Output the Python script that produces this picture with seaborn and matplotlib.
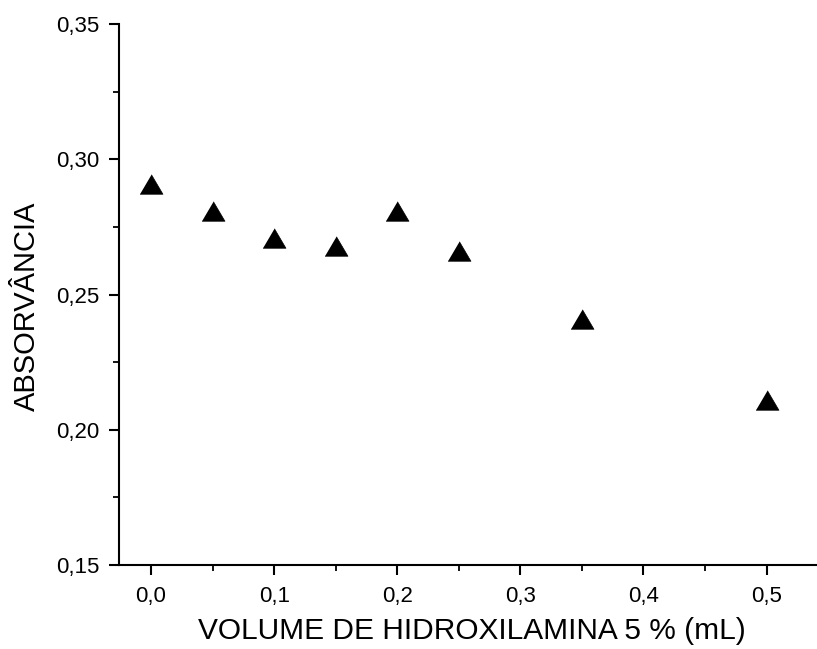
import matplotlib
matplotlib.use("Agg")
import matplotlib.pyplot as plt
import seaborn as sns
import pandas as pd
from matplotlib.ticker import MultipleLocator, FixedLocator

volume = [0.0, 0.05, 0.10, 0.15, 0.20, 0.25, 0.35, 0.50]
absorbance = [0.291, 0.281, 0.271, 0.268, 0.281, 0.266, 0.241, 0.211]
xticks = [0.0, 0.1, 0.2, 0.3, 0.4, 0.5]
xtick_labels = ["0,0", "0,1", "0,2", "0,3", "0,4", "0,5"]
yticks = [0.15, 0.20, 0.25, 0.30, 0.35]
ytick_labels = ["0,15", "0,20", "0,25", "0,30", "0,35"]
xlabel = "VOLUME DE HIDROXILAMINA 5 % (mL)"
ylabel = "ABSORVÂNCIA"

sns.set_style("ticks")
plt.rcParams['font.family'] = ['Liberation Sans', 'DejaVu Sans']

df = pd.DataFrame({"x": volume, "y": absorbance})

fig = plt.figure(figsize=(8.17, 6.49), dpi=100)
ax = fig.add_axes([0.1457, 0.1294, 0.8543, 0.8336])
tri = [(-1.0, -0.85), (1.0, -0.85), (0.0, 0.85)]
sns.scatterplot(data=df, x="x", y="y", marker=tri, s=272, color="black",
                edgecolor="black", linewidth=0.5, ax=ax)

ax.set_xlim(-0.026, 0.541)
ax.set_ylim(0.15, 0.35)
ax.xaxis.set_major_locator(FixedLocator(xticks))
ax.set_xticklabels(xtick_labels)
ax.yaxis.set_major_locator(FixedLocator(yticks))
ax.set_yticklabels(ytick_labels)
ax.xaxis.set_minor_locator(MultipleLocator(0.05))
ax.yaxis.set_minor_locator(MultipleLocator(0.025))

for s in ["top", "right"]:
    ax.spines[s].set_visible(False)
for s in ["left", "bottom"]:
    ax.spines[s].set_linewidth(1.5)
    ax.spines[s].set_color("black")

ax.tick_params(axis="both", which="major", direction="out", length=7.5, width=1.5,
               labelsize=16, colors="black")
ax.tick_params(axis="both", which="minor", direction="out", length=4.5, width=1.3,
               colors="black")
ax.tick_params(axis="x", which="major", pad=7.5)
ax.tick_params(axis="y", which="major", pad=6.5)

ax.set_xlabel(xlabel, fontsize=21.5, va="center", color="black")
ax.set_ylabel(ylabel, fontsize=21, va="center", color="black")
ax.xaxis.set_label_coords(0.506, -0.122)
ax.yaxis.set_label_coords(-0.132, 0.479)

fig.savefig("out.png", dpi=100, facecolor="white")
